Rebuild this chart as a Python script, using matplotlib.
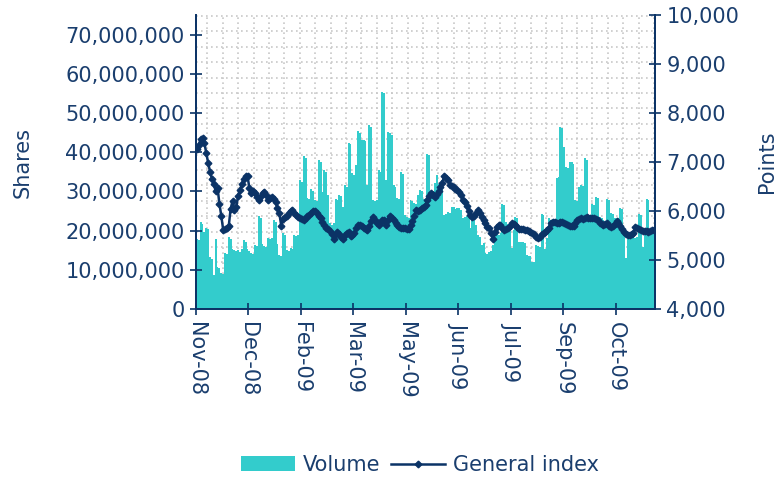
import numpy as np
import matplotlib
matplotlib.use("Agg")
import matplotlib.pyplot as plt
from matplotlib.ticker import FuncFormatter

# daily trading volume (millions of shares), Nov-08 .. Oct-09
volume_m = [
    17.9, 17.5, 22.3, 21.8, 19.7, 20.7, 20.5, 13.3, 12.8, 8.7,
    17.9, 10.8, 10.5, 9.2, 9.0, 14.3, 14.0, 18.4, 17.8, 15.3,
    15.0, 14.8, 15.0, 14.6, 15.2, 17.6, 17.2, 15.2, 14.9, 14.3,
    14.0, 16.3, 16.0, 23.7, 23.2, 16.5, 16.0, 15.8, 18.1, 17.8,
    18.0, 22.7, 22.2, 16.5, 13.8, 13.5, 19.4, 19.0, 15.0, 14.8,
    15.6, 15.3, 18.9, 18.6, 18.9, 33.0, 32.5, 39.1, 38.5, 28.3,
    28.0, 30.6, 30.2, 27.8, 27.5, 38.0, 37.5, 29.9, 35.5, 35.0,
    29.1, 21.9, 21.5, 22.0, 28.1, 27.8, 29.1, 28.8, 26.1, 31.6,
    31.2, 42.4, 42.0, 34.7, 34.2, 36.7, 45.4, 45.0, 43.1, 43.1,
    42.8, 31.6, 46.9, 46.5, 27.8, 27.5, 27.8, 35.5, 35.0, 55.4,
    55.0, 33.0, 45.2, 45.0, 44.5, 31.6, 31.2, 28.3, 28.0, 35.0,
    34.5, 24.0, 23.5, 23.2, 27.8, 27.5, 27.0, 26.8, 29.1, 30.4,
    30.0, 28.0, 27.8, 39.5, 39.2, 29.0, 30.2, 32.1, 34.2, 32.0,
    32.5, 32.9, 24.0, 24.3, 24.8, 24.5, 26.1, 26.0, 25.5, 25.7,
    25.7, 25.3, 23.2, 23.5, 23.7, 24.0, 20.6, 23.9, 22.7, 21.4,
    18.9, 18.4, 16.3, 16.8, 14.3, 14.0, 14.6, 14.8, 16.3, 19.7,
    19.4, 19.0, 19.4, 26.7, 26.5, 22.1, 21.8, 20.2, 15.5, 20.2,
    23.5, 23.2, 17.2, 17.0, 17.2, 16.8, 13.8, 13.6, 13.4, 12.1,
    12.0, 16.3, 16.0, 15.9, 24.2, 24.0, 15.3, 18.0, 23.1, 22.8,
    22.9, 22.8, 33.5, 33.7, 46.5, 46.3, 41.4, 36.3, 36.0, 37.6,
    37.4, 37.0, 27.8, 27.5, 31.2, 31.6, 31.4, 38.4, 38.0, 24.0,
    23.5, 26.7, 26.5, 28.6, 28.3, 23.5, 23.2, 22.7, 22.5, 28.1,
    27.8, 24.4, 24.2, 23.1, 23.0, 23.3, 25.7, 25.5, 20.6, 12.9,
    19.7, 18.4, 18.2, 18.4, 18.1, 18.4, 24.2, 24.0, 15.9, 18.9,
    28.1, 27.8, 18.9, 19.7, 19.5,
]

# general index (points)
index_pts = [
    7260, 7350, 7470, 7480, 7380, 7180, 6980, 6800, 6660, 6560,
    6400, 6470, 6150, 5900, 5620, 5640, 5650, 5700, 6050, 6200,
    6030, 6090, 6310, 6430, 6550, 6660, 6720, 6710, 6470, 6360,
    6400, 6360, 6280, 6230, 6300, 6370, 6390, 6330, 6230, 6270,
    6290, 6250, 6180, 6060, 5950, 5700, 5840, 5870, 5890, 5960,
    6000, 6020, 5950, 5910, 5870, 5850, 5830, 5815, 5850, 5890,
    5920, 5960, 6000, 6010, 5960, 5900, 5850, 5780, 5710, 5660,
    5630, 5590, 5540, 5420, 5540, 5570, 5540, 5470, 5430, 5510,
    5560, 5570, 5480, 5510, 5550, 5650, 5710, 5720, 5700, 5650,
    5630, 5610, 5700, 5790, 5880, 5820, 5760, 5710, 5780, 5820,
    5810, 5720, 5810, 5900, 5850, 5810, 5760, 5720, 5680, 5650,
    5660, 5660, 5640, 5630, 5720, 5800, 5900, 6020, 6000, 6030,
    6060, 6080, 6120, 6220, 6300, 6370, 6330, 6290, 6350, 6400,
    6480, 6580, 6710, 6680, 6630, 6530, 6510, 6490, 6450, 6420,
    6390, 6320, 6230, 6180, 6100, 6000, 5920, 5880, 5900, 5960,
    6020, 5950, 5880, 5820, 5750, 5680, 5660, 5550, 5420, 5570,
    5670, 5710, 5720, 5650, 5620, 5630, 5650, 5700, 5760, 5740,
    5710, 5680, 5640, 5630, 5625, 5615, 5605, 5590, 5580, 5560,
    5540, 5460, 5445, 5470, 5530, 5560, 5580, 5620, 5660, 5760,
    5775, 5780, 5750, 5760, 5780, 5770, 5750, 5730, 5710, 5690,
    5690, 5700, 5760, 5815, 5840, 5850, 5835, 5860, 5885, 5860,
    5850, 5860, 5865, 5840, 5820, 5760, 5730, 5715, 5730, 5750,
    5690, 5665, 5700, 5740, 5790, 5750, 5700, 5640, 5575, 5530,
    5510, 5520, 5535, 5545, 5670, 5650, 5630, 5610, 5595, 5590,
    5595, 5580, 5600, 5610, 5612,
]

month_labels = ["Nov-08", "Dec-08", "Feb-09", "Mar-09", "May-09",
                "Jun-09", "Jul-09", "Sep-09", "Oct-09"]
label_step = 28

bar_color = "#33CCCC"
line_color = "#0B3366"
text_color = "#1A3E6E"
grid_color = "#C8C8C8"
fs = 15

W, H = 779, 479
fig = plt.figure(figsize=(W / 100, H / 100), dpi=100)
rect = [196 / W, 1 - 309 / H, (655 - 196) / W, (309 - 15) / H]

# dotted background pattern behind the plot
ax_bg = fig.add_axes(rect, zorder=0)
ax_bg.set_xlim(0, 459)
ax_bg.set_ylim(0, 294)
for gx in np.arange(11.3, 459, 15.4):
    ax_bg.axvline(gx, color=grid_color, lw=1.2, ls=(0, (1, 2)))
for gy in np.arange(293, 0, -15.4):
    ax_bg.axhline(gy, color=grid_color, lw=1.2, ls=(0, (1, 2)))
ax_bg.axis("off")

ax = fig.add_axes(rect, zorder=1)
ax.patch.set_visible(False)
n = len(volume_m)
x = np.arange(n)
vol = np.array(volume_m) * 1e6
ax.bar(x, vol, width=1.0, align="edge", color=bar_color, linewidth=0, label="Volume")
ax.set_xlim(0, n)
ax.set_ylim(0, 75e6)
ax.set_yticks(np.arange(0, 75e6, 10e6))
ax.yaxis.set_major_formatter(FuncFormatter(lambda v, p: f"{v:,.0f}"))
ax.set_xticks(x[::label_step][:len(month_labels)])
ax.set_xticklabels(month_labels, rotation=270)

ax2 = ax.twinx()
ax2.set_zorder(2)
ax2.plot(x + 0.5, index_pts, color=line_color, lw=1.8, marker="D", ms=3.4,
         label="General index")
ax2.set_ylim(4000, 10000)
ax2.set_yticks(np.arange(4000, 10001, 1000))
ax2.yaxis.set_major_formatter(FuncFormatter(lambda v, p: f"{v:,.0f}"))

for a in (ax, ax2):
    a.spines["top"].set_visible(False)
    for side in ("left", "right", "bottom"):
        a.spines[side].set_color(line_color)
        a.spines[side].set_linewidth(1.3)
    a.tick_params(direction="inout", length=8.5, width=1.2, color=line_color,
                  labelcolor=text_color, labelsize=fs, pad=4)
ax.tick_params(axis="x", pad=5)

ax.set_ylabel("Shares", fontsize=fs, color=text_color)
ax.yaxis.set_label_coords(-0.355, 0.5)
ax2.set_ylabel("Points", fontsize=fs, color=text_color)
ax2.yaxis.set_label_coords(1.222, 0.5)

h1, l1 = ax.get_legend_handles_labels()
h2, l2 = ax2.get_legend_handles_labels()
leg = fig.legend(h1 + h2, l1 + l2, loc="center", bbox_to_anchor=(420 / W, 1 - 465 / H),
                 ncol=2, frameon=False, fontsize=fs, handlelength=2.6,
                 columnspacing=0.5, handletextpad=0.4)
for t in leg.get_texts():
    t.set_color(text_color)

fig.savefig("out.png", dpi=100)
